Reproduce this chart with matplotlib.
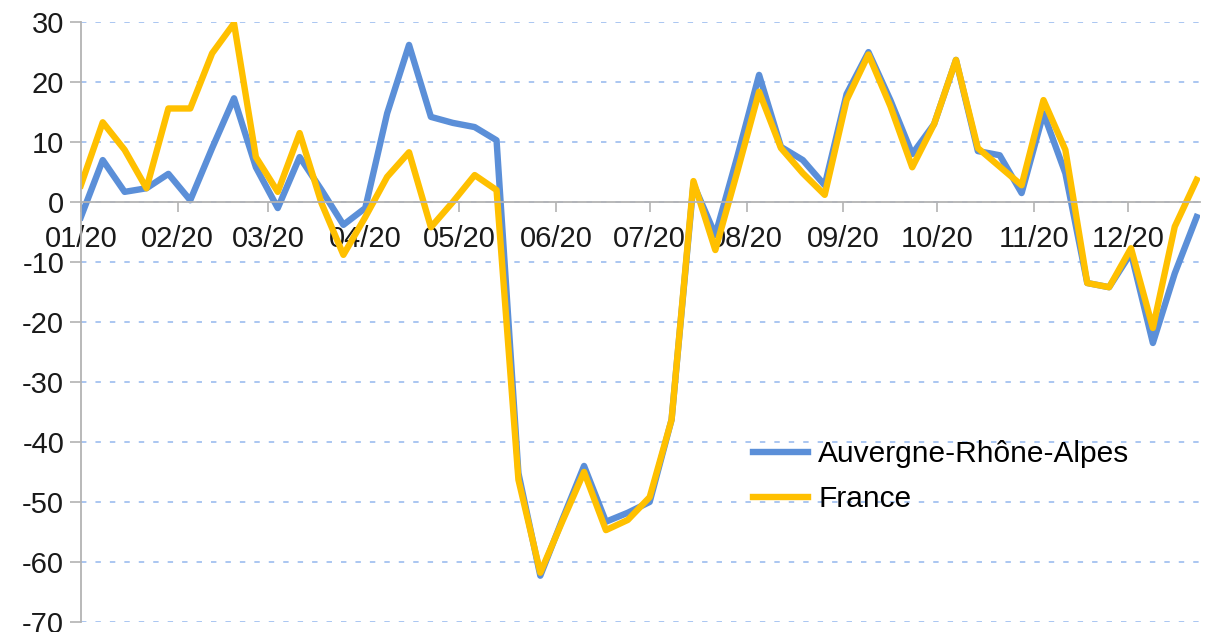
import matplotlib.pyplot as plt
import matplotlib.dates as mdates
import pandas as pd

# Évolution hebdomadaire 2020 (en %) : Auvergne-Rhône-Alpes vs France
semaines = pd.date_range("2020-01-01", periods=52, freq="7D")

aura = [-2.5, 7, 1.7, 2.3, 4.7, 0.3, 9, 17.3, 5.8, -1,
        7.5, 2, -3.8, -1, 14.8, 26.2, 14.2, 13.2, 12.5, 10.3,
        -45.2, -62.3, -53, -44, -53.3, -51.8, -50, -36.3, 3, -5.5,
        7.5, 21.2, 9.2, 7, 2.8, 18, 25, 17, 8, 13,
        23.7, 8.5, 7.8, 1.5, 14.8, 4.8, -13.5, -14.2, -8.5, -23.5,
        -11.9, -2.5]

france = [2.8, 13.3, 8.7, 2.3, 15.6, 15.6, 24.8, 29.8, 7.5, 1.7,
          11.5, -0.2, -8.8, -2.5, 4.2, 8.3, -4.2, 0, 4.5, 2,
          -46.3, -61.8, -53.3, -45, -54.7, -53, -49.2, -36.3, 3.5, -8,
          5, 18.4, 9, 4.8, 1.2, 17, 24.6, 16, 5.8, 13,
          23.7, 9, 5.9, 2.8, 17, 8.7, -13.5, -14.2, -7.7, -21,
          -4.1, 3.7]

couleur_aura = "#5b8fd8"
couleur_france = "#ffc000"

plt.rcParams["font.family"] = ["Liberation Sans", "DejaVu Sans"]
plt.rcParams["axes.unicode_minus"] = False

fig = plt.figure(figsize=(12.07, 6.32), dpi=100)
ax = fig.add_axes([0.067, 0.016, 0.927, 0.949])

ax.plot(semaines, aura, color=couleur_aura, linewidth=4.6, label="Auvergne-Rhône-Alpes")
ax.plot(semaines, france, color=couleur_france, linewidth=4.6, label="France")

ax.set_ylim(-70, 30)
ax.set_yticks(range(-70, 31, 10))
ax.set_xlim(semaines[0], semaines[-1] + pd.Timedelta(days=1))

ax.xaxis.set_major_locator(mdates.MonthLocator())
ax.xaxis.set_major_formatter(mdates.DateFormatter("%m/%y"))

ax.spines["top"].set_visible(False)
ax.spines["right"].set_visible(False)
ax.spines["bottom"].set_position(("data", 0))
ax.spines["bottom"].set_color("#b3b3b3")
ax.spines["left"].set_color("#b3b3b3")
ax.spines["bottom"].set_linewidth(1.3)
ax.spines["left"].set_linewidth(1.3)

ax.tick_params(axis="y", colors="#b3b3b3", labelcolor="#1a1a1a",
               labelsize=21, length=8, width=1.2, pad=4)
ax.tick_params(axis="x", colors="#b3b3b3", labelcolor="#1a1a1a",
               labelsize=21, length=7.5, width=1.2, pad=9)

ax.yaxis.grid(True, color="#a4c2f0", linestyle=(0, (3, 5)), linewidth=1.3)
ax.set_axisbelow(True)

ax.legend(loc="upper left", bbox_to_anchor=(0.59, 0.323), frameon=False,
          fontsize=21.5, handlelength=1.85, handletextpad=0.33,
          labelspacing=0.57, borderaxespad=0)

fig.savefig("out.png", dpi=100)
